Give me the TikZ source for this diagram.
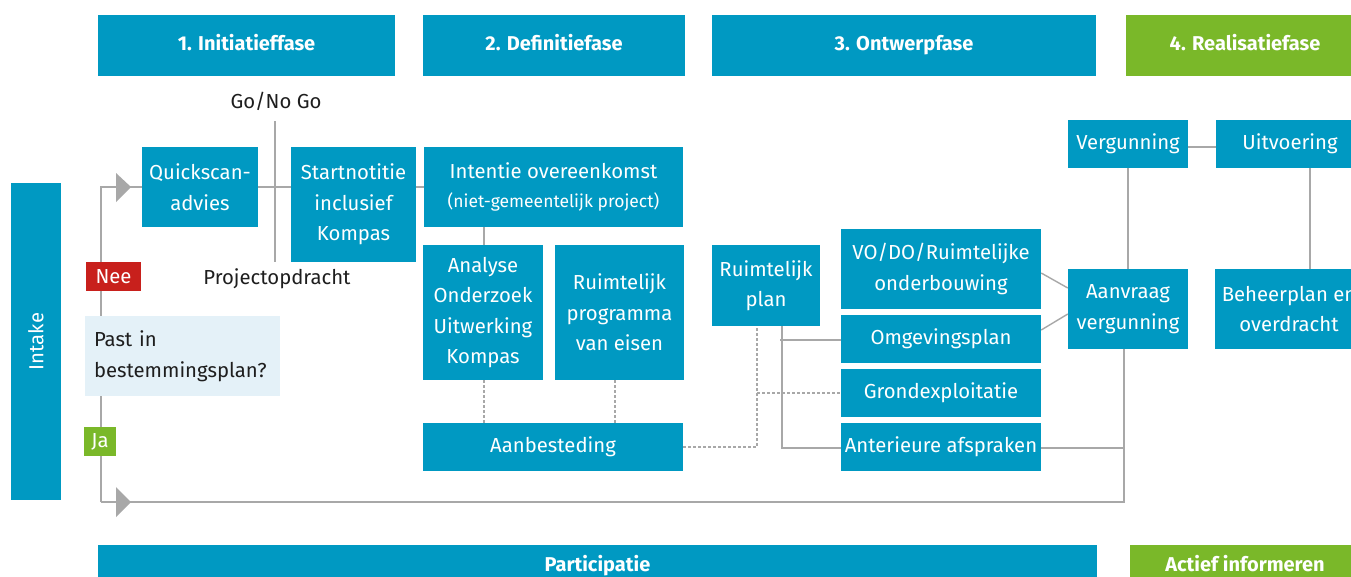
\documentclass[tikz,border=0pt]{standalone}
\usepackage{fontspec}
\setmainfont{Fira Sans}
\definecolor{rblue}{HTML}{0099C2}
\definecolor{rgreen}{HTML}{7AB829}
\definecolor{rred}{HTML}{C8201C}
\definecolor{rlight}{HTML}{E4F1F8}
\definecolor{rline}{HTML}{A8A8A8}
\definecolor{rtext}{HTML}{1E1E1E}
\begin{document}
\begin{tikzpicture}[x=1pt,y=-1pt,
  box/.style={fill=rblue, text=white, align=center, inner sep=0pt,
    font=\fontsize{20.3}{30.5}\selectfont},
  phase/.style={fill=rblue, text=white, align=center, inner sep=0pt, minimum height=61pt,
    text height=14.5pt, text depth=4.5pt,
    font=\fontsize{20}{22}\selectfont\bfseries},
  gphase/.style={phase, fill=rgreen},
  conn/.style={draw=rline, line width=1.4pt},
  dconn/.style={draw=rline, line width=1.4pt, dash pattern=on 3pt off 2pt},
  plain/.style={text=rtext, inner sep=0pt, font=\fontsize{20.3}{30.5}\selectfont},
  tag/.style={text=white, inner sep=0pt, minimum height=29pt, font=\fontsize{20.3}{22}\selectfont},
  tri/.style={fill=rline, draw=none}
]
\clip (0,0) rectangle (1351,576);
\fill[white] (0,0) rectangle (1351,576);

% phase headers
\node[phase, minimum width=297pt] (h1) at (246.5,45.5) {1. Initiatieffase};
\node[phase, minimum width=262pt] (h2) at (554,45.5) {2. Definitiefase};
\node[phase, minimum width=384pt] (h3) at (904,45.5) {3. Ontwerpfase};
\node[gphase, minimum width=238pt] (h4) at (1245,45.5) {4. Realisatiefase};

% bottom bars
\node[phase, minimum width=999pt, minimum height=42pt] (part) at (597.5,566) {Participatie};
\node[gphase, minimum width=230pt, minimum height=42pt] (actief) at (1245,566) {Actief informeren};

% intake
\node[box, minimum width=50pt, minimum height=317pt] (intake) at (36,341.5) {};
\node[text=white, font=\fontsize{20.3}{22}\selectfont, rotate=90, inner sep=0pt] (intaketxt) at (36,341.5) {Intake};

\coordinate (trunktop) at (101,187);
\coordinate (trunkbot) at (101,502);
\coordinate (corner) at (1124,502);
\coordinate (goTop) at (275,121);
\coordinate (goBot) at (275,262);

% nodes
\node[box, minimum width=116pt, minimum height=80pt] (quick) at (200,187) {Quickscan-\\advies};
\node[box, minimum width=125pt, minimum height=115pt] (start) at (353.5,204.5) {Startnotitie\\inclusief\\Kompas};
\node[box, minimum width=259pt, minimum height=80pt] (intent) at (553.5,187) {Intentie overeenkomst\\[-1pt]{\fontsize{17.5}{20}\selectfont (niet-gemeentelijk project)}};
\node[box, minimum width=120pt, minimum height=135pt] (analyse) at (483,312.5) {Analyse\\Onderzoek\\Uitwerking\\Kompas};
\node[box, minimum width=129pt, minimum height=135pt] (rpve) at (619.5,312.5) {Ruimtelijk\\programma\\van eisen};
\node[box, minimum width=260pt, minimum height=48pt] (aanb) at (553,447) {Aanbesteding};
\node[box, minimum width=108pt, minimum height=81pt] (rplan) at (766,285.5) {Ruimtelijk\\plan};
\node[box, minimum width=200pt, minimum height=80pt] (vodo) at (941,269) {VO/DO/Ruimtelijke\\onderbouwing};
\node[box, minimum width=200pt, minimum height=48pt] (omg) at (941,339) {Omgevingsplan};
\node[box, minimum width=200pt, minimum height=48pt] (grond) at (941,393) {Grondexploitatie};
\node[box, minimum width=200pt, minimum height=48pt] (ant) at (941,447) {Anterieure afspraken};
\node[box, minimum width=120pt, minimum height=48pt] (verg) at (1128,144) {Vergunning};
\node[box, minimum width=148pt, minimum height=48pt] (uitv) at (1290,144) {Uitvoering};
\node[box, minimum width=120pt, minimum height=80pt] (aanvr) at (1128,309) {Aanvraag\\vergunning};
\node[box, minimum width=148pt, minimum height=80pt] (beheer) at (1289,309) {Beheerplan en\\overdracht};

\node[plain] (gonogo) at (276,101) {Go/No Go};
\node[plain] (projopd) at (277,279) {Projectopdracht};

% connectors
\draw[conn] (trunkbot) -- (trunktop) -- (quick.west);
\draw[conn] (trunkbot) -- (corner) -- (corner |- aanvr.south);
\draw[conn] (quick.east) -- (quick.east -| start.west);
\draw[conn] (intent.west -| start.east) -- (intent.west);
\draw[conn] (goTop) -- (goBot);
\draw[conn] ([xshift=1pt]intent.south -| analyse.north) -- ([xshift=1pt]analyse.north);
\draw[dconn] ([xshift=1pt]analyse.south) -- ([xshift=1pt]aanb.north -| analyse.south);
\draw[dconn] ([xshift=-4.5pt]rpve.south) -- ([xshift=-4.5pt]aanb.north -| rpve.south);
\coordinate (dj) at (757,447);
\coordinate (dm) at (757,393);
\draw[dconn] (aanb.east) -- (dj) -- (dj |- rplan.south);
\draw[dconn] (dm) -- (grond.west);
\coordinate (sj) at (782,448);
\coordinate (sm) at (780,340);
\draw[conn] ([xshift=16pt]rplan.south) -- (sj) -- (sj -| ant.west);
\draw[conn] (sm) -- (sm -| omg.west);
\draw[conn] ([yshift=-4pt]vodo.east) -- ([yshift=21pt]aanvr.west);
\draw[conn] ([yshift=9pt]omg.east) -- ([yshift=-5pt]aanvr.west);
\draw[conn] ([yshift=-1pt]ant.east) -- ([yshift=-1pt]ant.east -| corner);
\draw[conn] ([yshift=-3pt]verg.east) -- ([yshift=-3pt]verg.east -| uitv.west);
\draw[conn] (verg.south) -- (aanvr.north);
\draw[conn] (uitv.south -| 1310,0) -- (beheer.north -| 1310,0);

% arrow heads
\fill[tri] (116,173) -- (131,187) -- (116,202) -- cycle;
\fill[tri] (116,487) -- (131,502) -- (116,517) -- cycle;

% decision labels
\node[tag, fill=rred, minimum width=55pt] (nee) at (113.5,276.5) {Nee};
\node[fill=rlight, text=rtext, minimum width=195pt, minimum height=80pt, text width=177pt, align=left, inner xsep=9pt, inner ysep=0pt, font=\fontsize{20.3}{30.5}\selectfont] (past) at (182.5,356) {Past in\\bestemmingsplan?};
\node[tag, fill=rgreen, minimum width=32pt] (ja) at (100,441.5) {Ja};
\end{tikzpicture}
\end{document}
